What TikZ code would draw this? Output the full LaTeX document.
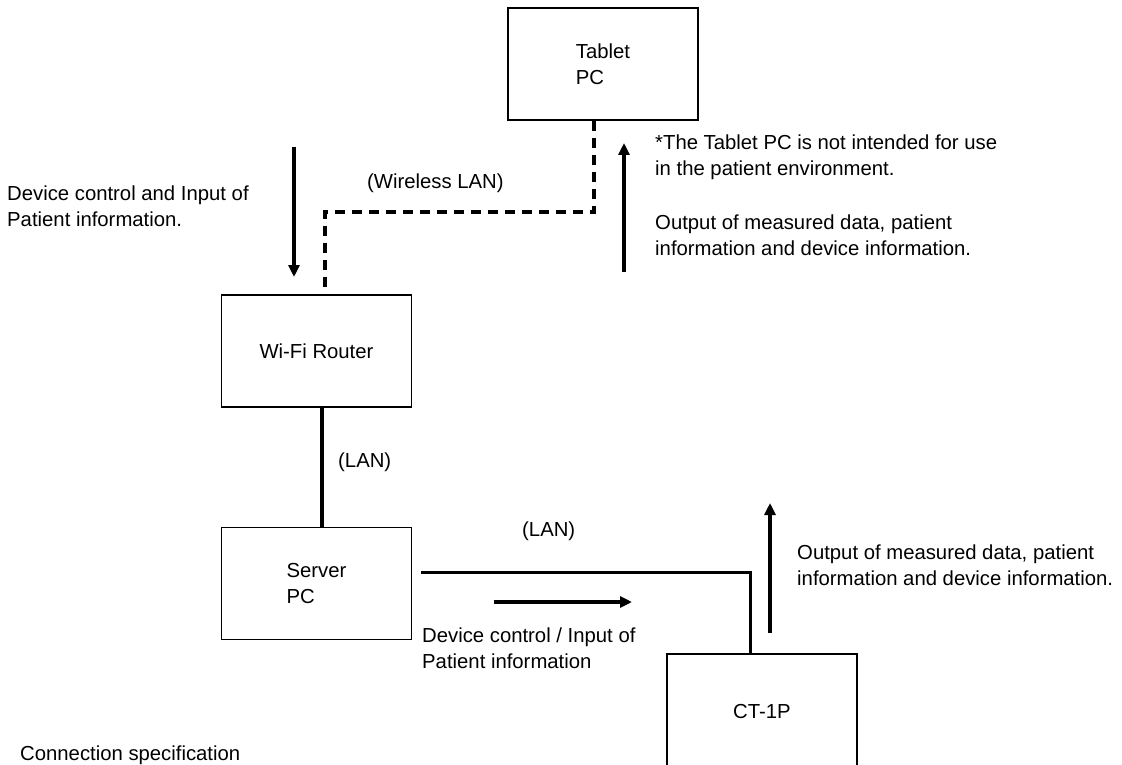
\documentclass[tikz,border=0pt]{standalone}
\usepackage{fontspec}
\setmainfont{Liberation Sans}
\usetikzlibrary{arrows.meta}
\begin{document}
\begin{tikzpicture}
    [x=1pt,y=-1pt,
    font=\fontsize{20.3}{25.5}\selectfont,
    device/.style={draw,line width=1.4pt,minimum width=190pt,minimum height=112pt,inner sep=0pt,align=left},
    txt/.style={inner sep=0pt,align=left,anchor=north west},
    lbl/.style={inner sep=0pt,anchor=base west},
    wlan/.style={line width=3.8pt,dash pattern=on 10pt off 7pt},
    lan/.style={line width=3pt},
    flow/.style={line width=3.2pt,-{Triangle[length=12pt,width=11pt]}}]
    \useasboundingbox (0,0) rectangle (1122,765);
    %devices
    \node[device] (tablet) at (603,64) {Tablet\\PC};
    \node[device] (wifi) at (316.5,351) {Wi-Fi Router};
    \node[device] (server) at (316.5,583.5) {Server\\PC};
    \node[device,minimum height=116pt] (ct) at (762,712) {CT-1P};
    %connections
    \draw[wlan] ([xshift=-9pt]tablet.south) -- ++(0,91) -| ([xshift=8.5pt]wifi.north);
    \draw[lan,line width=4pt] ([xshift=5.5pt]wifi.south) -- ([xshift=5.5pt]server.north);
    \draw[lan] ([xshift=9pt,yshift=11.5pt]server.east) -| ([xshift=-12pt]ct.north);
    \node[lbl] (wl) at (367,189) {(Wireless LAN)};
    \node[lbl] (lan1) at (338,467) {(LAN)};
    \node[lbl] (lan2) at (522,536) {(LAN)};
    %data flow
    \coordinate (in1) at (294,147); \coordinate (in2) at (294,277);
    \coordinate (out1) at (624,272); \coordinate (out2) at (624,143);
    \coordinate (in3) at (494,602); \coordinate (in4) at (632,602);
    \coordinate (out3) at (770,633); \coordinate (out4) at (770,503);
    \draw[flow] (in1) -- (in2);
    \draw[flow] (out1) -- (out2);
    \draw[flow] (in3) -- (in4);
    \draw[flow] (out3) -- (out4);
    %notes
    \node[txt] (ctrl1) at (7,186) {Device control and Input of\\Patient information.};
    \node[txt] (note) at (655,135) {*The Tablet PC is not intended for use\\in the patient environment.};
    \node[txt] (meas1) at (655,215) {Output of measured data, patient\\information and device information.};
    \node[txt] (ctrl2) at (422,628) {Device control / Input of\\Patient information};
    \node[txt] (meas2) at (797,545) {Output of measured data, patient\\information and device information.};
    \node[lbl] (spec) at (20,760) {Connection specification};
\end{tikzpicture}
\end{document}
